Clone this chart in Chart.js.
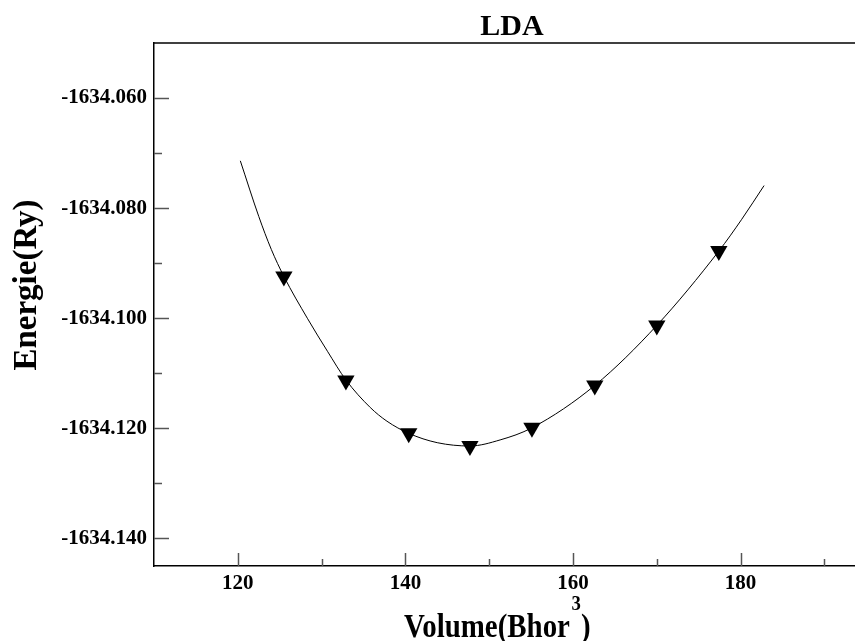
<!DOCTYPE html>
<html>
<head>
<meta charset="utf-8">
<script src="https://cdn.jsdelivr.net/npm/chart.js@4"></script>
<style>
    html, body { margin: 0; padding: 0; background: #fff; overflow: hidden; }
    #wrap { width: 855px; height: 641px; }
</style>
</head>
<body>
<div id="wrap"><canvas id="ldaChart"></canvas></div>
<script>
// computed points (triangles)
const volumes = [125.5, 132.9, 140.4, 147.7, 155.1, 162.6, 170.0, 177.4];
const energies = [-1634.0924, -1634.1113, -1634.1209, -1634.1232, -1634.1199, -1634.1122, -1634.1013, -1634.0878];

// fitted curve
const curveVolumes = [120.3, 122.5, 124.0, 125.5, 128.3, 130.7, 132.9, 135.8, 137.8, 140.4, 143.8, 147.7, 151.3, 155.1, 162.6, 170.0, 177.4, 180.1, 182.8];
const curveEnergies = [-1634.0714, -1634.0815, -1634.0875, -1634.0924, -1634.1000, -1634.1060, -1634.1112, -1634.1162, -1634.1187, -1634.1209, -1634.1226, -1634.1232, -1634.1221, -1634.1199, -1634.1122, -1634.1013, -1634.0878, -1634.0821, -1634.0759];

// ticks
const xTicks = [120, 130, 140, 150, 160, 170, 180, 190];
const xLabelTicks = [120, 140, 160, 180];
const yTicks = [-1634.14, -1634.13, -1634.12, -1634.11, -1634.10, -1634.09, -1634.08, -1634.07, -1634.06];
const yLabelTicks = [-1634.14, -1634.12, -1634.10, -1634.08, -1634.06];

const isLabeled = (list, v) => list.some(t => Math.abs(t - v) < 1e-6);

// inward tick marks, top frame line, title and axis titles
const framePlugin = {
    id: 'frame',
    afterDraw(chart) {
        const ctx = chart.ctx;
        const area = chart.chartArea;
        const x = chart.scales.x;
        const y = chart.scales.y;

        ctx.save();
        ctx.strokeStyle = '#555';
        ctx.lineWidth = 1.5;
        xTicks.forEach(v => {
            const px = Math.round(x.getPixelForValue(v)) + 0.5;
            const len = isLabeled(xLabelTicks, v) ? 13 : 7;
            ctx.beginPath();
            ctx.moveTo(px, area.bottom);
            ctx.lineTo(px, area.bottom - len);
            ctx.stroke();
        });
        yTicks.forEach(v => {
            const py = Math.round(y.getPixelForValue(v)) + 0.5;
            const len = isLabeled(yLabelTicks, v) ? 15 : 8;
            ctx.beginPath();
            ctx.moveTo(area.left, py);
            ctx.lineTo(area.left + len, py);
            ctx.stroke();
        });

        ctx.strokeStyle = '#000';
        ctx.lineWidth = 1.5;
        ctx.beginPath();
        ctx.moveTo(area.left, area.top);
        ctx.lineTo(area.right, area.top);
        ctx.stroke();

        ctx.fillStyle = '#000';
        ctx.textBaseline = 'alphabetic';

        // chart title
        ctx.font = 'bold 30px "Liberation Serif"';
        ctx.textAlign = 'center';
        ctx.fillText('LDA', 512, 35);

        // y title
        ctx.save();
        ctx.translate(36, 285);
        ctx.rotate(-Math.PI / 2);
        ctx.font = 'bold 33px "Liberation Serif"';
        ctx.textAlign = 'center';
        ctx.fillText('Energie(Ry)', 0, 0);
        ctx.restore();

        // x title with superscript
        ctx.save();
        ctx.translate(404, 637);
        ctx.scale(0.85, 1);
        ctx.textAlign = 'left';
        ctx.font = 'bold 34px "Liberation Serif"';
        const main = 'Volume(Bhor';
        ctx.fillText(main, 0, 0);
        let w = ctx.measureText(main).width;
        ctx.font = 'bold 22px "Liberation Serif"';
        ctx.fillText('3', w + 2, -27);
        w += ctx.measureText('3').width + 2;
        ctx.font = 'bold 34px "Liberation Serif"';
        ctx.fillText(')', w, 0);
        ctx.restore();

        ctx.restore();
    }
};

const chart = new Chart(document.getElementById('ldaChart'), {
    type: 'scatter',
    data: {
        datasets: [
            {
                label: 'fit',
                data: curveVolumes.map((v, i) => ({ x: v, y: curveEnergies[i] })),
                showLine: true,
                borderColor: '#000',
                borderWidth: 1,
                pointRadius: 0,
                cubicInterpolationMode: 'monotone',
                order: 2
            },
            {
                label: 'LDA',
                data: volumes.map((v, i) => ({ x: v, y: energies[i] })),
                showLine: false,
                pointStyle: 'triangle',
                rotation: 180,
                pointRadius: 10,
                pointBackgroundColor: '#000',
                pointBorderColor: '#000',
                pointBorderWidth: 0,
                order: 1
            }
        ]
    },
    options: {
        responsive: true,
        maintainAspectRatio: false,
        animation: false,
        layout: { padding: { top: 43, left: 0, right: 0, bottom: 0 }, autoPadding: false },
        plugins: {
            legend: { display: false },
            tooltip: { enabled: false },
            title: { display: false }
        },
        scales: {
            x: {
                type: 'linear',
                min: 110,
                max: 193.65,
                afterBuildTicks: scale => { scale.ticks = xTicks.map(v => ({ value: v })); },
                afterFit: scale => { scale.height = 75; },
                grid: { display: false, drawTicks: false },
                border: { display: true, color: '#000', width: 1.5 },
                ticks: {
                    padding: 5,
                    autoSkip: false,
                    maxRotation: 0,
                    color: '#000',
                    font: { family: '"Liberation Serif"', size: 21, weight: 'bold' },
                    callback: v => isLabeled(xLabelTicks, v) ? String(v) : ''
                }
            },
            y: {
                type: 'linear',
                min: -1634.145,
                max: -1634.05,
                afterBuildTicks: scale => { scale.ticks = yTicks.map(v => ({ value: v })); },
                afterFit: scale => { scale.width = 154; },
                grid: { display: false, drawTicks: false },
                border: { display: true, color: '#000', width: 1.5 },
                ticks: {
                    padding: 7,
                    autoSkip: false,
                    color: '#000',
                    font: { family: '"Liberation Serif"', size: 21, weight: 'bold' },
                    callback: v => isLabeled(yLabelTicks, v) ? v.toFixed(3) : ''
                }
            }
        }
    },
    plugins: [framePlugin]
});
</script>
</body>
</html>
